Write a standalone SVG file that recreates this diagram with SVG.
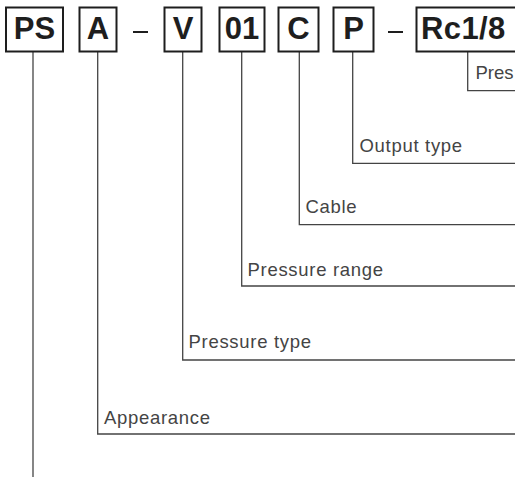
<svg xmlns="http://www.w3.org/2000/svg" width="515" height="477" viewBox="0 0 515 477">
<style>
.box{fill:#fff;stroke:#1e1e1e;stroke-width:2}
.code{font-family:"Liberation Sans",Arial,sans-serif;font-weight:bold;font-size:31px;fill:#1e1e1e;text-anchor:middle}
.dash{stroke:#1e1e1e;stroke-width:2}
.conn{fill:none;stroke:#444;stroke-width:1.3}
.lbl{font-family:"Liberation Sans",Arial,sans-serif;font-size:18.5px;letter-spacing:0.7px;fill:#444}
</style>
<rect width="515" height="477" fill="#fff"/>
<g id="connectors">
<polyline class="conn" points="33,51.5 33,477"/>
<polyline class="conn" points="97.7,51.5 97.7,434 515,434"/>
<polyline class="conn" points="182.7,51.5 182.7,360 515,360"/>
<polyline class="conn" points="241.7,51.5 241.7,286 515,286"/>
<polyline class="conn" points="299.3,51.5 299.3,224.7 515,224.7"/>
<polyline class="conn" points="352.7,51.5 352.7,163.3 515,163.3"/>
<polyline class="conn" points="467.7,51.5 467.7,90.7 515,90.7"/>
</g>
<g id="node-PS"><rect class="box" x="6" y="7.5" width="57" height="44"/><text class="code" x="34.5" y="39.3">PS</text></g>
<g id="node-A"><rect class="box" x="79.5" y="7.5" width="37" height="44"/><text class="code" x="98" y="39.3">A</text></g>
<g id="dash1"><line class="dash" x1="133" y1="32" x2="148" y2="32"/></g>
<g id="node-V"><rect class="box" x="164.5" y="7.5" width="37" height="44"/><text class="code" x="183" y="39.3">V</text></g>
<g id="node-01"><rect class="box" x="219.5" y="7.5" width="45" height="44"/><text class="code" x="242" y="39.3">01</text></g>
<g id="node-C"><rect class="box" x="278.5" y="7.5" width="40" height="44"/><text class="code" x="298.5" y="39.3">C</text></g>
<g id="node-P"><rect class="box" x="333.5" y="7.5" width="40" height="44"/><text class="code" x="353.5" y="39.3">P</text></g>
<g id="dash2"><line class="dash" x1="388" y1="32" x2="403" y2="32"/></g>
<g id="node-Rc"><rect class="box" x="416.5" y="7.5" width="120" height="44"/><text class="code" x="421" y="39.3" style="text-anchor:start;letter-spacing:0.4px">Rc1/8</text></g>
<g id="label-pres"><text class="lbl" x="475.5" y="79.2" style="letter-spacing:0">Pres</text></g>
<g id="label-output"><text class="lbl" x="359.5" y="151.5">Output type</text></g>
<g id="label-cable"><text class="lbl" x="305.5" y="213.3">Cable</text></g>
<g id="label-range"><text class="lbl" x="247.5" y="275.7">Pressure range</text></g>
<g id="label-ptype"><text class="lbl" x="188.5" y="348.3">Pressure type</text></g>
<g id="label-appearance"><text class="lbl" x="104" y="424">Appearance</text></g>
</svg>
